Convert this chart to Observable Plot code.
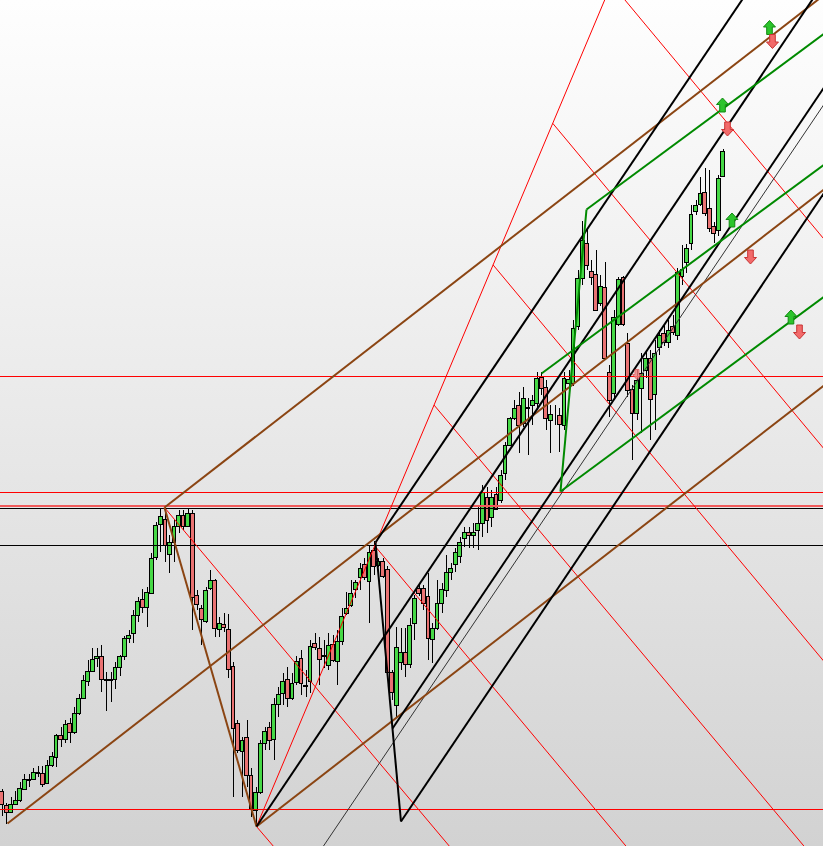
<!DOCTYPE html>
<html>
<head>
<meta charset="utf-8">
<script src="https://cdn.jsdelivr.net/npm/d3@7"></script>
<script src="https://cdn.jsdelivr.net/npm/@observablehq/plot@0.6"></script>
<style>
  html, body { margin: 0; padding: 0; background: #fff; }
  #chart svg { display: block; }
</style>
</head>
<body>
<div id="chart"></div>
<script>
// ---------- candle data (bar index = array position, price units) ----------
const open = [209,195,188,196,200,211,221,221,227,227,217,235,243,265,261,277,268,287,302,319,
  329,342,344,321,320,321,333,344,362,367,385,401,393,407,443,476,481,446,458,474,
  485,474,487,405,392,379,412,420,371,376,371,334,277,249,263,225,190,208,257,273,
  261,296,307,321,302,318,342,315,319,357,352,345,335,356,339,359,387,395,411,423,
  436,419,450,435,439,431,328,295,338,348,336,377,412,412,404,361,372,397,410,428,
  436,444,462,468,465,470,477,503,483,506,500,527,555,582,595,577,592,595,597,623,
  613,580,587,585,575,617,617,674,722,757,729,726,697,713,628,607,676,723,657,611,
  587,612,630,642,606,653,667,658,674,665,724,738,757,789,796,808,792,774,770,824];
const high = [211,197,203,209,218,226,226,232,234,234,240,248,266,273,280,282,293,306,325,340,
  352,352,355,328,328,338,345,364,370,390,403,411,413,447,478,492,493,465,480,490,
  490,492,490,410,395,413,430,421,383,387,386,338,280,263,280,232,213,260,273,278,
  302,313,327,333,327,344,350,330,360,367,363,360,367,365,370,392,408,420,420,437,
  442,455,459,442,442,434,330,373,372,372,382,405,415,415,427,377,420,417,445,437,
  452,463,473,473,477,493,515,513,510,513,530,558,583,600,608,613,602,605,628,628,
  620,595,595,592,628,630,680,730,779,770,740,750,725,738,635,690,723,724,667,615,
  630,647,648,650,660,670,675,680,685,732,755,756,795,800,823,832,830,778,825,851];
const low = [184,176,187,195,198,210,213,220,223,213,216,233,233,253,257,257,266,285,301,314,
  328,333,308,289,298,311,324,340,357,357,378,387,373,406,440,448,438,427,438,467,
  470,473,370,390,355,377,410,363,363,368,322,203,247,203,213,183,174,206,250,250,
  240,283,295,293,300,315,305,303,307,350,315,332,330,338,315,355,385,393,402,410,
  420,377,425,433,422,326,300,282,330,323,332,360,404,390,340,337,370,387,403,420,
  428,437,453,452,452,450,463,467,473,490,497,520,554,580,547,573,545,575,590,605,
  570,547,575,548,570,610,614,670,715,730,715,690,694,640,583,600,674,674,603,540,
  580,567,622,560,570,645,654,652,665,660,715,727,750,785,794,784,768,757,764,823];
const close = [196,188,196,200,212,221,220,228,228,216,235,244,265,261,276,268,287,302,320,329,
  341,344,321,320,321,333,344,362,365,385,399,393,408,442,475,484,455,458,474,485,
  474,487,403,396,381,410,420,372,377,373,331,272,250,260,225,192,208,257,269,260,
  296,306,319,302,317,339,317,314,354,353,341,344,355,340,359,384,392,407,418,432,
  423,448,434,439,424,328,308,353,348,336,375,402,407,397,362,372,397,411,428,432,
  448,458,468,465,468,477,508,480,503,491,525,555,582,592,575,602,593,600,622,612,
  582,586,587,576,622,621,672,722,760,735,723,690,714,642,600,683,721,676,610,587,
  620,627,642,601,647,665,658,670,668,728,731,752,786,795,807,787,772,767,822,849];

// ---------- horizontal price levels ----------
const redLevels = [624, 508, 191];
const pinkLevels = [494.5];
const blackLevels = [492.5, 455];

// ---------- drawn objects: endpoints in (bar index, price) ----------
const brownLines = [
  {x1: 35.79, y1: 493, x2: 56.08, y2: 174},     // pitchfork 2-3 segment
  {x1: 1.175, y1: 177, x2: 182.28, y2: 814.8},  // median
  {x1: 35.79, y1: 493, x2: 182.28, y2: 1009.2}, // upper parallel
  {x1: 56.08, y1: 174, x2: 182.28, y2: 618.85}  // lower parallel
];
const redLines = [
  {x1: 56.08, y1: 174, x2: 134.14, y2: 1014.3},
  {x1: 35.79, y1: 493, x2: 98.86, y2: 153},
  {x1: 56.08, y1: 174, x2: 61.37, y2: 146},
  {x1: 82.10, y1: 455, x2: 138.55, y2: 149},
  {x1: 95.22, y1: 595.5, x2: 177.8, y2: 149},
  {x1: 108.25, y1: 735.6, x2: 182.28, y2: 333.3},
  {x1: 121.42, y1: 877.1, x2: 182.28, y2: 545.9},
  {x1: 134.36, y1: 1016.7, x2: 182.28, y2: 755.6}
];
const blackLines = [
  {x1: 82.32, y1: 458, x2: 87.94, y2: 179},
  {x1: 56.08, y1: 174, x2: 182.28, y2: 1025.3},
  {x1: 82.32, y1: 458, x2: 165.0, y2: 1013},
  {x1: 86.07, y1: 272, x2: 182.28, y2: 920.2},
  {x1: 87.94, y1: 179, x2: 182.28, y2: 814.7}
];
const thinLines = [
  {x1: 70.19, y1: 150, x2: 182.28, y2: 903.3}
];
const greenLines = [
  {x1: 123.11, y1: 509, x2: 128.85, y2: 791},
  {x1: 128.85, y1: 791, x2: 182.28, y2: 970.3},
  {x1: 118.93, y1: 627, x2: 182.28, y2: 839.4},
  {x1: 123.11, y1: 509, x2: 182.28, y2: 707.4}
];
const upArrows = [
  {x: 169.2, y: 973}, {x: 158.84, y: 895.5}, {x: 160.93, y: 780.5}, {x: 173.94, y: 683.5}
];
const downArrows = [
  {x: 169.86, y: 959}, {x: 159.94, y: 871.5}, {x: 165.01, y: 743.5}, {x: 175.82, y: 668.5}
];
const faintArrows = [{x: 139.98, y: 626}];

// ---------- build ----------
const candles = open.map((o, i) => ({i, open: o, high: high[i], low: low[i], close: close[i]}));

const arrowUp = {draw(ctx) {
  ctx.moveTo(0, -7); ctx.lineTo(6, -0.5); ctx.lineTo(2.8, -0.5); ctx.lineTo(2.8, 7);
  ctx.lineTo(-2.8, 7); ctx.lineTo(-2.8, -0.5); ctx.lineTo(-6, -0.5); ctx.closePath();
}};
const arrowDown = {draw(ctx) {
  ctx.moveTo(0, 7); ctx.lineTo(6, 0.5); ctx.lineTo(2.8, 0.5); ctx.lineTo(2.8, -7);
  ctx.lineTo(-2.8, -7); ctx.lineTo(-2.8, 0.5); ctx.lineTo(-6, 0.5); ctx.closePath();
}};
const arrowDownSmall = {draw(ctx) {
  ctx.moveTo(0, 5); ctx.lineTo(4.5, 0); ctx.lineTo(2, 0); ctx.lineTo(2, -5);
  ctx.lineTo(-2, -5); ctx.lineTo(-2, 0); ctx.lineTo(-4.5, 0); ctx.closePath();
}};

const W = 823, H = 846;
const chart = Plot.plot({
  width: W, height: H,
  margin: 0,
  style: "background: linear-gradient(to bottom, #fefefe 0%, #e9e9e9 50%, #d2d2d2 100%); overflow: hidden;",
  x: {type: "linear", domain: [-0.368, 181.11], axis: null},
  y: {type: "linear", domain: [154, 1000], axis: null},
  marks: [
    Plot.ruleX(candles, {x: "i", y1: "low", y2: "high", stroke: "#000", strokeWidth: 1, shapeRendering: "crispEdges"}),
    Plot.rect(candles, {
      x1: d => d.i - 0.42, x2: d => d.i + 0.42,
      y1: "open", y2: "close",
      fill: d => d.close >= d.open ? "#46d846" : "#e97272",
      stroke: "#000", strokeWidth: 1, shapeRendering: "crispEdges"
    }),
    Plot.ruleY(redLevels, {y: d => d, stroke: "#ff0000", strokeWidth: 1, shapeRendering: "crispEdges"}),
    Plot.ruleY(pinkLevels, {y: d => d, stroke: "#f05a5a", strokeWidth: 2, shapeRendering: "crispEdges"}),
    Plot.ruleY(blackLevels, {y: d => d, stroke: "#000", strokeWidth: 1, shapeRendering: "crispEdges"}),
    Plot.link(redLines, {x1: "x1", y1: "y1", x2: "x2", y2: "y2", stroke: "#ff0000", strokeWidth: 1, clip: true}),
    Plot.link(thinLines, {x1: "x1", y1: "y1", x2: "x2", y2: "y2", stroke: "#333", strokeWidth: 1, clip: true}),
    Plot.link(brownLines, {x1: "x1", y1: "y1", x2: "x2", y2: "y2", stroke: "#8b4513", strokeWidth: 2, clip: true}),
    Plot.link(blackLines, {x1: "x1", y1: "y1", x2: "x2", y2: "y2", stroke: "#000", strokeWidth: 2, clip: true}),
    Plot.link(greenLines, {x1: "x1", y1: "y1", x2: "x2", y2: "y2", stroke: "#008a00", strokeWidth: 2, clip: true}),
    Plot.dot(upArrows, {x: "x", y: "y", symbol: arrowUp, fill: "#2cc42c", stroke: "#128a12", strokeWidth: 1}),
    Plot.dot(downArrows, {x: "x", y: "y", symbol: arrowDown, fill: "#f26a6a", stroke: "#c83434", strokeWidth: 1}),
    Plot.dot(faintArrows, {x: "x", y: "y", symbol: arrowDownSmall, fill: "#f28080", stroke: "#e05050", strokeWidth: 1, opacity: 0.8})
  ]
});
document.getElementById("chart").appendChild(chart);
</script>
</body>
</html>
